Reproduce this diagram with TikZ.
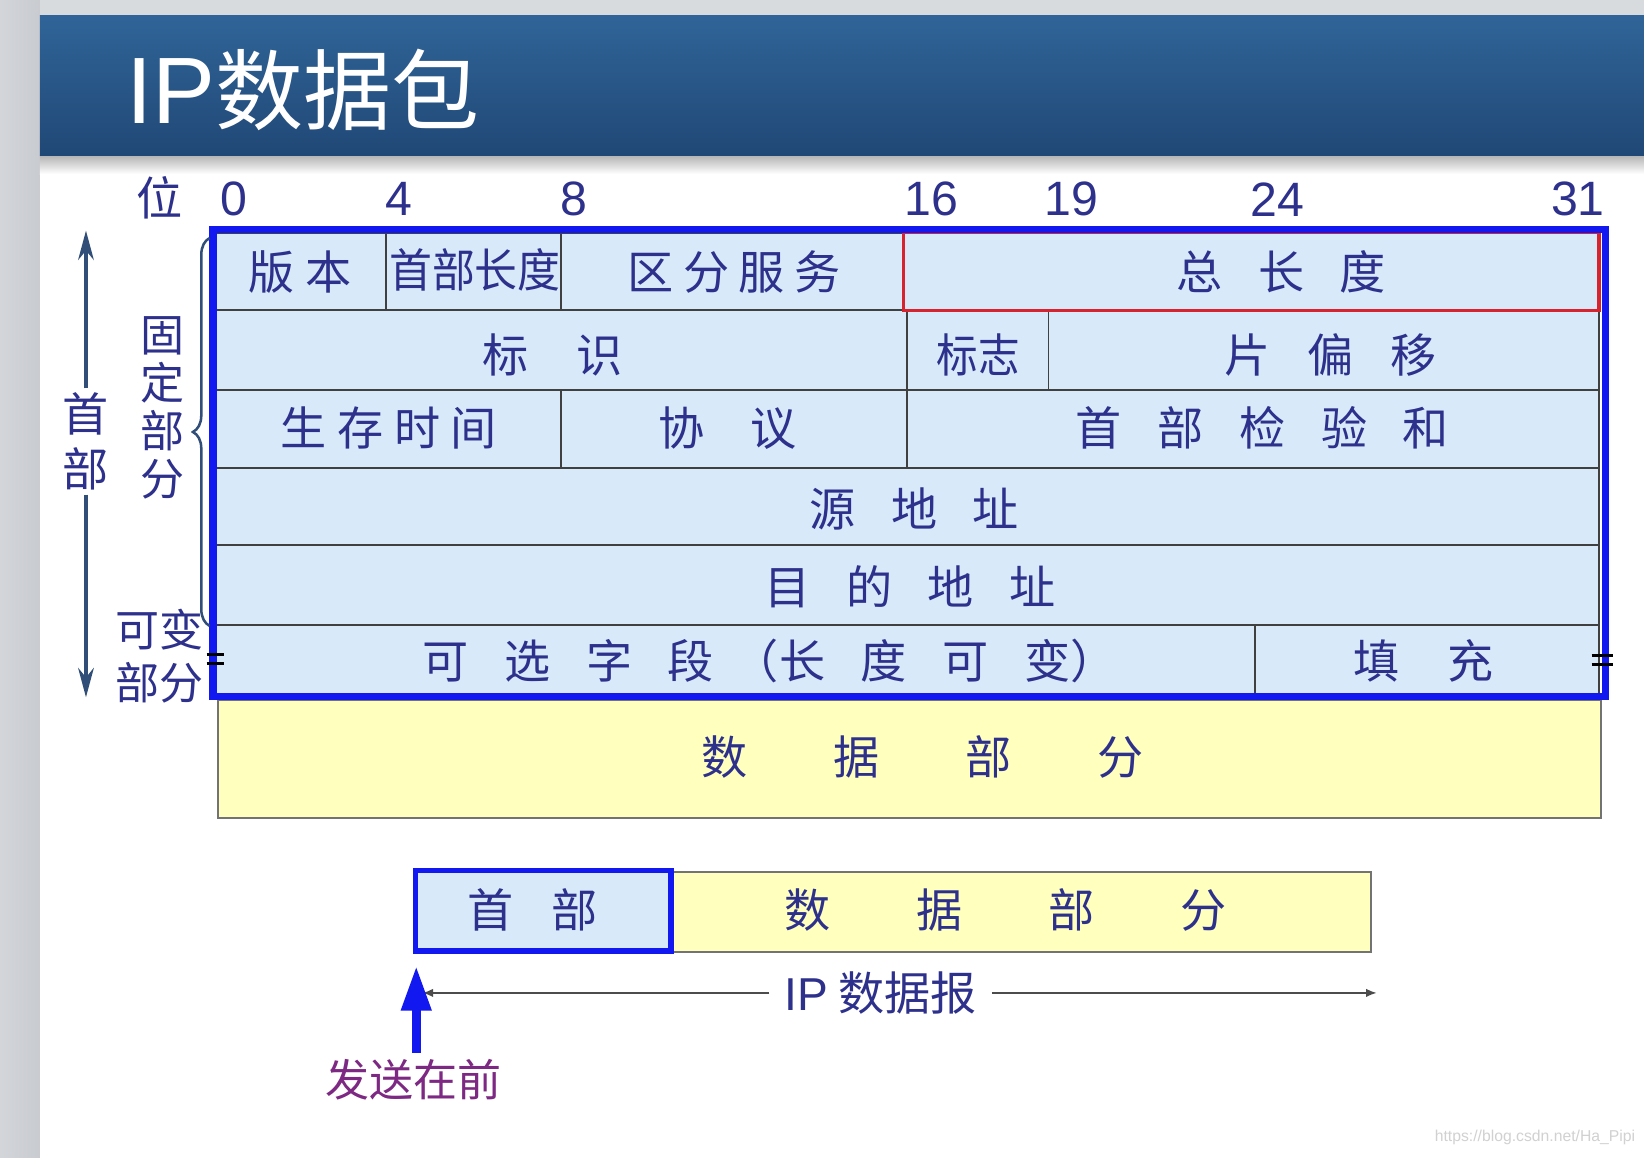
\documentclass[tikz,border=0pt]{standalone}
\usepackage{fontspec}
\setmainfont{Liberation Sans}
\newfontfamily\cjk{Noto Sans CJK SC}
\usetikzlibrary{arrows.meta,decorations.pathreplacing}
\definecolor{txt}{RGB}{46,49,140}
\definecolor{cellfill}{RGB}{216,234,250}
\definecolor{dataf}{RGB}{255,255,190}
\definecolor{bblue}{RGB}{18,24,240}
\definecolor{rred}{RGB}{215,35,45}
\definecolor{hdtop}{RGB}{48,100,152}
\definecolor{hdbot}{RGB}{32,72,118}
\definecolor{annot}{RGB}{48,78,120}
\definecolor{purp}{RGB}{125,40,130}
\definecolor{sidegray}{RGB}{200,203,208}
\newcommand\gp[1]{\hspace{#1pt}}
\tikzset{
  celltext/.style={text=txt, font=\cjk\fontsize{22}{24}\selectfont, inner sep=0pt},
  bitlbl/.style={text=txt, font=\fontsize{23}{25}\selectfont, inner sep=0pt},
  cellline/.style={draw=black!75, line width=0.9pt, fill=cellfill},
  databox/.style={draw=black!55, line width=0.9pt, fill=dataf},
  outerblue/.style={draw=bblue, line width=3.5pt},
  sidetext/.style={text=txt, align=center, inner sep=2pt},
  annotarrow/.style={draw=annot, line width=1.5pt, -{Stealth[length=14pt,width=7.5pt]}},
  dimline/.style={draw=black!70, line width=0.8pt, -{Latex[length=5pt,width=4pt]}},
  breakmark/.style={draw=black, line width=1.2pt},
}
\begin{document}
\begin{tikzpicture}[x=0.5pt,y=-0.5pt]
\useasboundingbox (0,0) rectangle (1568,1104);
% background
\fill[white] (0,0) rectangle (1568,1104);
\shade[left color=sidegray!80, right color=sidegray] (0,0) rectangle (38,1104);
\fill[sidegray!70] (38,0) rectangle (1568,15);
\shade[top color=black!30, bottom color=white] (38,148) rectangle (1568,166);
\shade[top color=hdtop, bottom color=hdbot] (38,15) rectangle (1568,148);
\node[anchor=west, text=white, inner sep=0pt, font=\cjk\fontsize{42}{44}\selectfont] (title) at (120,86) {{\rmfamily\fontsize{45}{46}\selectfont IP}数据包};

% bit labels
\node[celltext] (wei) at (152,189) {位};
\node[bitlbl] (b0) at (223,190) {0};
\node[bitlbl] (b4) at (380,190) {4};
\node[bitlbl] (b8) at (547,190) {8};
\node[bitlbl] (b16) at (888,190) {16};
\node[bitlbl] (b19) at (1022,190) {19};
\node[bitlbl] (b24) at (1218,190) {24};
\node[bitlbl] (b31) at (1505,190) {31};

% row 1
\draw[cellline] (206,222) rectangle (368,296);
\draw[cellline] (368,222) rectangle (535,296);
\draw[cellline] (535,222) rectangle (862,296);
\draw[cellline] (862,222) rectangle (1525,296);
% row 2
\draw[cellline] (206,296) rectangle (865,372);
\draw[cellline] (865,296) rectangle (1000,372);
\draw[cellline] (1000,296) rectangle (1525,372);
% row 3
\draw[cellline] (206,372) rectangle (535,446);
\draw[cellline] (535,372) rectangle (865,446);
\draw[cellline] (865,372) rectangle (1525,446);
% rows 4,5
\draw[cellline] (206,446) rectangle (1525,520);
\draw[cellline] (206,520) rectangle (1525,596);
% row 6
\draw[cellline] (206,596) rectangle (1197,662);
\draw[cellline] (1197,596) rectangle (1525,662);
% red box
\draw[draw=rred, line width=1.5pt] (862,222) rectangle (1525,296);
% data part
\draw[databox] (208,668) rectangle (1527,780);

% cell texts
\node[celltext] (banben) at (286,259) {版\gp{5}本};
\node[celltext, xscale=0.93] (sbcd) at (453,257) {首部长度};
\node[celltext] (qffw) at (700,259) {区\gp{4.5}分\gp{4.5}服\gp{4.5}务};
\node[celltext] (zcd) at (1222,259) {总\gp{17}长\gp{17}度};
\node[celltext] (bs) at (527,339) {标\gp{22.5}识};
\node[celltext, xscale=0.9] (bz) at (933,339) {标志};
\node[celltext] (pyy) at (1269,339) {片\gp{17.5}偏\gp{17.5}移};
\node[celltext] (scsj) at (371,408) {生\gp{5}存\gp{5}时\gp{5}间};
\node[celltext] (xy) at (694,408) {协\gp{22}议};
\node[celltext] (jyh) at (1204,408) {首\gp{17}部\gp{17}检\gp{17}验\gp{17}和};
\node[celltext] (ydz) at (872,485) {源\gp{17}地\gp{17}址};
\node[celltext] (mddz) at (868,560) {目\gp{17}的\gp{17}地\gp{17}址};
\node[celltext] (kxzd) at (734,630) {可\gp{17}选\gp{17}字\gp{17}段\gp{9}（长\gp{17}度\gp{17}可\gp{17}变）};
\node[celltext] (tc) at (1358,630) {填\gp{23}充};
\node[celltext] (sjbf) at (880,722) {数\gp{41}据\gp{41}部\gp{41}分};

% outer blue border
\draw[outerblue] (203,219) rectangle (1531,664);
% break marks
\draw[breakmark] (197,624) -- (214,624);
\draw[breakmark] (197,633) -- (214,633);
\draw[breakmark] (1518,625) -- (1538,625);
\draw[breakmark] (1518,634) -- (1538,634);

% left annotations
\node[sidetext, font=\cjk\fontsize{22}{26}\selectfont] (shoubu) at (82,421) {首\\部};
\coordinate (hbtop) at (82,220);
\coordinate (hbbot) at (82,665);
\draw[annotarrow] (shoubu.north) -- (hbtop);
\draw[annotarrow] (shoubu.south) -- (hbbot);
\coordinate (brtop) at (200,227);
\coordinate (brbot) at (200,597);
\draw[draw=annot, line width=1.2pt, decorate, decoration={brace, amplitude=8pt}] (brbot) -- (brtop);
\node[sidetext, font=\cjk\fontsize{21}{23}\selectfont] (gdbf) at (155,389) {固\\定\\部\\分};
\node[sidetext, font=\cjk\fontsize{21}{25.5}\selectfont] (kbbf) at (152,626) {可变\\部分};

% bottom datagram
\draw[databox] (640,832) rectangle (1308,908);
\draw[draw=bblue, line width=2.5pt, fill=cellfill] (396,830) rectangle (640,907);
\node[celltext] (sb2) at (508,868) {首\gp{18}部};
\node[celltext] (sjbf2) at (959,868) {数\gp{41}据\gp{41}部\gp{41}分};
\node[celltext, inner xsep=7pt] (ipdb) at (840,947) {{\rmfamily IP} 数据报};
\coordinate (ipl) at (403,947);
\coordinate (ipr) at (1313,947);
\draw[dimline] (ipdb.west) -- (ipl);
\draw[dimline] (ipdb.east) -- (ipr);
\node[text=purp, inner sep=3pt, font=\cjk\fontsize{21}{23}\selectfont] (fszq) at (394,1030) {发送在前};
\coordinate (fstip) at (397,921);
\draw[draw=bblue, line width=4.5pt, -{Triangle[length=21.5pt,width=13.5pt]}] (fszq.north -| fstip) -- (fstip);

% watermark
\node[text=black!18, inner sep=0pt, font=\fontsize{7.5}{8}\selectfont] (wm) at (1464,1085) {https://blog.csdn.net/Ha\_Pipi};
\end{tikzpicture}
\end{document}
